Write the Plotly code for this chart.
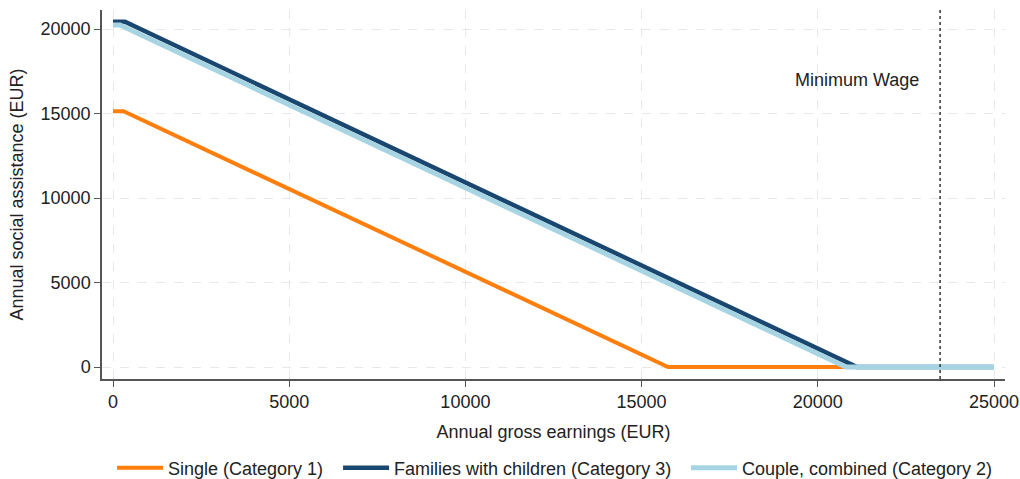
import plotly.graph_objects as go

earn_single = [0, 300, 15750, 25000]
sa_single = [15140, 15140, 0, 0]
earn_family = [0, 340, 21110, 25000]
sa_family = [20430, 20430, 0, 0]
earn_couple = [0, 200, 20800, 25000]
sa_couple = [20240, 20240, 0, 0]
min_wage = 23470

x_ticks = [0, 5000, 10000, 15000, 20000, 25000]
y_ticks = [0, 5000, 10000, 15000, 20000]

fig = go.Figure()
fig.add_trace(go.Scatter(x=earn_single, y=sa_single, mode="lines", name="Single (Category 1)",
                         line=dict(color="#ff7f0e", width=4), legend="legend"))
fig.add_trace(go.Scatter(x=earn_family, y=sa_family, mode="lines", name="Families with children (Category 3)",
                         line=dict(color="#1a476f", width=4.5), legend="legend2"))
fig.add_trace(go.Scatter(x=earn_couple, y=sa_couple, mode="lines", name="Couple, combined (Category 2)",
                         line=dict(color="#a6d4e2", width=5), legend="legend3"))

fig.add_shape(type="line", x0=min_wage, x1=min_wage, y0=0, y1=1, yref="paper",
              line=dict(color="#333333", width=1.5, dash="dot"))
fig.add_annotation(x=min_wage, y=16980, text="Minimum Wage", showarrow=False,
                   xanchor="right", xshift=-19, font=dict(size=18, color="#222222"))

leg_common = dict(orientation="h", xanchor="left", y=-0.2412, yanchor="middle",
                  font=dict(size=18), itemwidth=46, bgcolor="rgba(0,0,0,0)")

fig.update_layout(
    width=1020, height=479,
    paper_bgcolor="white", plot_bgcolor="white",
    font=dict(family="Liberation Sans, Arial", size=18, color="#222222"),
    margin=dict(l=102, r=15, t=10, b=100, autoexpand=False),
    showlegend=True,
    legend=dict(x=0.0111, **leg_common),
    legend2=dict(x=0.2614, **leg_common),
    legend3=dict(x=0.6467, **leg_common),
)
fig.update_xaxes(range=[-312, 25312], tickvals=x_ticks, ticktext=[str(v) for v in x_ticks],
                 title=dict(text="Annual gross earnings (EUR)", standoff=14, font=dict(size=18)),
                 tickfont=dict(size=18), automargin=False,
                 showline=True, linecolor="#555555", linewidth=1.5, ticks="outside", ticklen=6,
                 tickcolor="#555555", showgrid=True, gridcolor="#e8e8e8", griddash="dash",
                 zeroline=False)
fig.update_yaxes(range=[-710, 21130], tickvals=y_ticks, ticktext=[str(v) for v in y_ticks],
                 title=dict(text="Annual social assistance (EUR)", standoff=12, font=dict(size=18)),
                 tickfont=dict(size=18), automargin=False,
                 showline=True, linecolor="#555555", linewidth=1.5, ticks="outside", ticklen=6,
                 tickcolor="#555555", showgrid=True, gridcolor="#e8e8e8", griddash="dash",
                 zeroline=False)

fig.write_html("out.html", config={"displayModeBar": False},
               post_script="document.body.style.margin='0';document.body.style.overflow='hidden';")
